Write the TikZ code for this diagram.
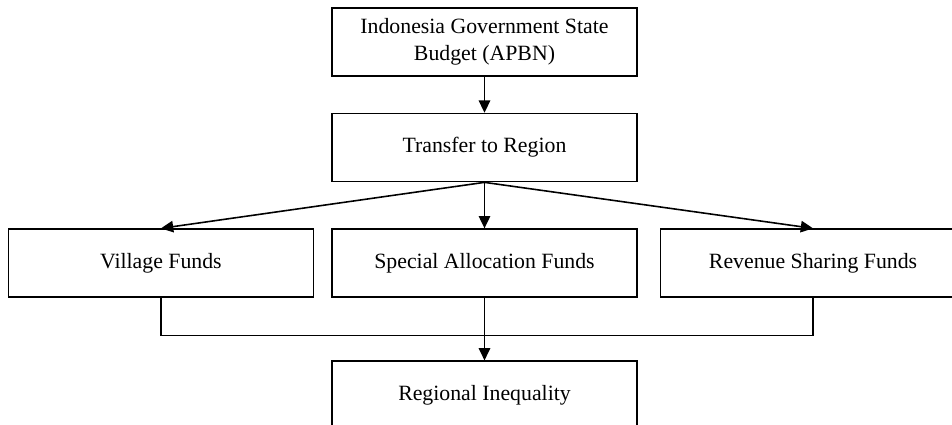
\documentclass[tikz,border=0pt]{standalone}
\usepackage{fontspec}
\setmainfont{Liberation Serif}
\usetikzlibrary{positioning,arrows.meta}

\begin{document}
\begin{tikzpicture}[%
    >={Triangle[length=7pt,width=6.5pt]}, % filled heads as in the figure
    line width=0.9pt,
    ]
% -------------------------------------------------
% Box and connector styles
\tikzset{
  box/.style={draw, rectangle, align=center, minimum width=6.1cm,
    minimum height=1.36cm, font=\fontsize{12.4}{15.3}\selectfont},
  norm/.style={->, draw},
}
% fixes the page to the cropped figure
\useasboundingbox (0,0) rectangle (19.04,-8.5);
% -------------------------------------------------
% Start by placing the nodes
\node [box] (apbn) at (9.69,-0.84) {Indonesia Government State\\Budget (APBN)};
\node [box, below=7.2mm of apbn] (transfer) {Transfer to Region};
\node [box, below=9.2mm of transfer] (special) {Special Allocation Funds};
\node [box, left=3.4mm of special] (village) {Village Funds};
\node [box, right=4.4mm of special] (revenue) {Revenue Sharing Funds};
\node [box, below=12.5mm of special] (inequality) {Regional Inequality};

% Connectors
\draw [norm] (apbn) -- (transfer);
\draw [norm] (transfer.south) -- (village.north);
\draw [norm] (transfer.south) -- (special.north);
\draw [norm] (transfer.south) -- (revenue.north);

\coordinate [below=7.5mm of special.south] (joint);
\draw (village.south) |- (joint) -| (revenue.south);
\draw [norm] (special.south) -- (inequality.north);
% -------------------------------------------------
\end{tikzpicture}
\end{document}
